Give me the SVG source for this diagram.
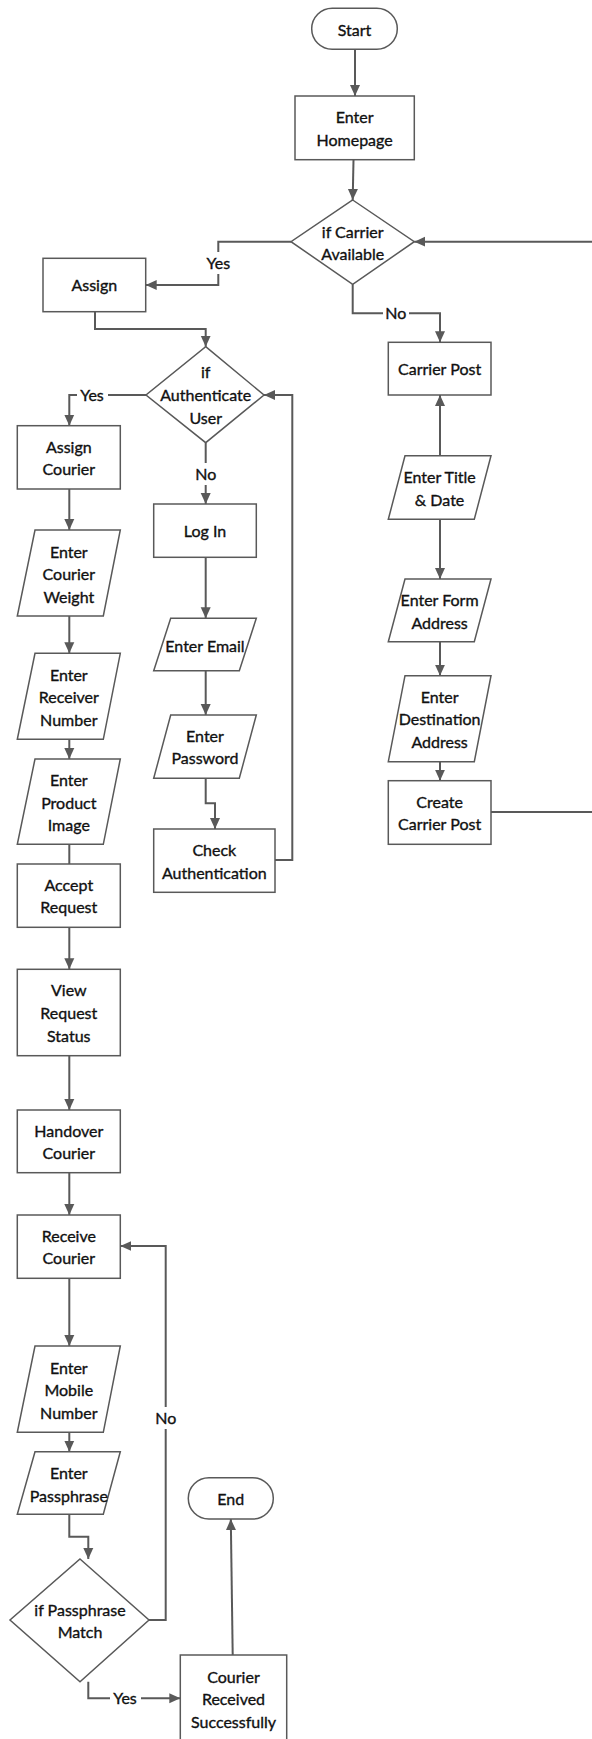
<svg xmlns="http://www.w3.org/2000/svg" width="592" height="1739" viewBox="0 0 592 1739">
<style>
.s{fill:#fff;stroke:#595959;stroke-width:1.5}
.c{fill:none;stroke:#595959;stroke-width:2}
.a{marker-end:url(#ah)}
text{font-family:Lato,"Noto Sans","Liberation Sans",sans-serif;font-size:16px;fill:#111;stroke:#111;stroke-width:0.35;text-anchor:middle}
.lb{fill:#fff;stroke:none}
</style>
<defs>
<marker id="ah" markerUnits="userSpaceOnUse" markerWidth="12" markerHeight="12" viewBox="0 0 12 12" refX="11" refY="6" orient="auto">
<path d="M0,1 L11,6 L0,11 Z" fill="#595959"/>
</marker>
</defs>
<rect width="592" height="1739" fill="#fff"/>
<g id="connectors">
<path class="c a" d="M355 49.3 V96"/>
<path class="c a" d="M353.5 159.7 L352.7 200"/>
<path class="c a" d="M291 241.7 H218.3 V285 H145.7"/>
<path class="c a" d="M352.7 284.3 V313.3 H440 V342.3"/>
<path class="c a" d="M95 311.7 V329 H205.7 V346.7"/>
<path class="c a" d="M146 395 H69.3 V425.7"/>
<path class="c a" d="M205.7 442.7 V504"/>
<path class="c a" d="M440 455.7 V395"/>
<path class="c a" d="M440 519.3 V579"/>
<path class="c a" d="M440 641.7 V675.7"/>
<path class="c a" d="M440 761.7 V780.7"/>
<path class="c a" d="M491 812 H600 V241.7 H414.3"/>
<path class="c a" d="M69.3 489 V530"/>
<path class="c a" d="M69.3 616 V653.3"/>
<path class="c a" d="M69.3 739.3 V759"/>
<path class="c" d="M69.3 844.3 V864"/>
<path class="c a" d="M205.7 557.3 V618.3"/>
<path class="c a" d="M205.7 670.7 V715"/>
<path class="c a" d="M205.7 778.3 V803.3 H215 V829"/>
<path class="c a" d="M275 860 H292.3 V395 H264"/>
<path class="c a" d="M69.3 927.3 V969.3"/>
<path class="c a" d="M69.3 1055.7 V1110"/>
<path class="c a" d="M69.3 1172.7 V1215"/>
<path class="c a" d="M69.3 1278.3 V1346"/>
<path class="c a" d="M69.3 1432.3 V1451.7"/>
<path class="c a" d="M69.3 1514.3 V1536.7 H88.3 V1559"/>
<path class="c a" d="M149 1620 H165.7 V1246 H120.3"/>
<path class="c a" d="M88.3 1681.7 V1698.3 H180.3"/>
<path class="c a" d="M232.7 1655 L230.8 1519"/>
<rect class="lb" x="203" y="252" width="31" height="22"/>
<text x="218.3" y="268.8">Yes</text>
<rect class="lb" x="383" y="302" width="26" height="22"/>
<text x="395.7" y="319">No</text>
<rect class="lb" x="77" y="384" width="31" height="22"/>
<text x="92" y="400.8">Yes</text>
<rect class="lb" x="193" y="463" width="26" height="22"/>
<text x="205.7" y="479.8">No</text>
<rect class="lb" x="153" y="1407" width="26" height="22"/>
<text x="165.7" y="1424">No</text>
<rect class="lb" x="110" y="1687" width="31" height="22"/>
<text x="125" y="1704">Yes</text>
</g>
<g id="start">
<rect class="s" x="311.7" y="8.3" width="85.6" height="41" rx="20.5"/>
<text x="354.5" y="35.5">Start</text>
</g>
<g id="homepage">
<rect class="s" x="295" y="96" width="119.3" height="63.7"/>
<text x="354.6" y="122.8">Enter</text>
<text x="354.6" y="145.8">Homepage</text>
</g>
<g id="carrier-available">
<polygon class="s" points="352.7,200 414.3,241.7 352.7,284.3 291,241.7"/>
<text x="352.7" y="237.5">if Carrier</text>
<text x="352.7" y="260.1">Available</text>
</g>
<g id="assign">
<rect class="s" x="43" y="258.3" width="102.7" height="53.4"/>
<text x="94.3" y="290.8">Assign</text>
</g>
<g id="carrier-post">
<rect class="s" x="388.3" y="342.3" width="102.7" height="52.7"/>
<text x="439.6" y="374.8">Carrier Post</text>
</g>
<g id="authenticate">
<polygon class="s" points="205.7,346.7 264,395 205.7,442.7 146,395"/>
<text x="205.7" y="377.5">if</text>
<text x="205.7" y="400.8">Authenticate</text>
<text x="205.7" y="423.8">User</text>
</g>
<g id="assign-courier">
<rect class="s" x="17.3" y="425.7" width="103" height="63.3"/>
<text x="68.8" y="452.5">Assign</text>
<text x="68.8" y="474.8">Courier</text>
</g>
<g id="courier-weight">
<polygon class="s" points="35,530 120.3,530 103.3,616 17.3,616"/>
<text x="68.8" y="557.5">Enter</text>
<text x="68.8" y="580.1">Courier</text>
<text x="68.8" y="602.8">Weight</text>
</g>
<g id="receiver-number">
<polygon class="s" points="35,653.3 120.3,653.3 103.3,739.3 17.3,739.3"/>
<text x="68.8" y="680.8">Enter</text>
<text x="68.8" y="702.8">Receiver</text>
<text x="68.8" y="725.8">Number</text>
</g>
<g id="product-image">
<polygon class="s" points="35,759 120.3,759 103.3,844.3 17.3,844.3"/>
<text x="68.8" y="785.8">Enter</text>
<text x="68.8" y="808.5">Product</text>
<text x="68.8" y="830.8">Image</text>
</g>
<g id="accept-request">
<rect class="s" x="17.3" y="864" width="103" height="63.3"/>
<text x="68.8" y="890.8">Accept</text>
<text x="68.8" y="913.1">Request</text>
</g>
<g id="view-request-status">
<rect class="s" x="17.3" y="969.3" width="103" height="86.4"/>
<text x="68.8" y="995.8">View</text>
<text x="68.8" y="1018.8">Request</text>
<text x="68.8" y="1041.8">Status</text>
</g>
<g id="handover-courier">
<rect class="s" x="17.3" y="1110" width="103" height="62.7"/>
<text x="68.8" y="1136.5">Handover</text>
<text x="68.8" y="1158.8">Courier</text>
</g>
<g id="receive-courier">
<rect class="s" x="17.3" y="1215" width="103" height="63.3"/>
<text x="68.8" y="1241.5">Receive</text>
<text x="68.8" y="1263.8">Courier</text>
</g>
<g id="mobile-number">
<polygon class="s" points="35,1346 120.3,1346 103.3,1432.3 17.3,1432.3"/>
<text x="68.8" y="1373.5">Enter</text>
<text x="68.8" y="1395.8">Mobile</text>
<text x="68.8" y="1418.8">Number</text>
</g>
<g id="passphrase">
<polygon class="s" points="35,1451.7 120.3,1451.7 103.3,1514.3 17.3,1514.3"/>
<text x="68.8" y="1478.5">Enter</text>
<text x="68.8" y="1501.5">Passphrase</text>
</g>
<g id="passphrase-match">
<polygon class="s" points="80,1559 149,1620 80,1681.7 10,1620"/>
<text x="80" y="1615.8">if Passphrase</text>
<text x="80" y="1637.8">Match</text>
</g>
<g id="courier-received">
<rect class="s" x="180.3" y="1655" width="106.4" height="95"/>
<text x="233.5" y="1682.5">Courier</text>
<text x="233.5" y="1705.1">Received</text>
<text x="233.5" y="1727.8">Successfully</text>
</g>
<g id="end">
<rect class="s" x="188.3" y="1477.7" width="85" height="41.3" rx="20.6"/>
<text x="230.8" y="1504.8">End</text>
</g>
<g id="log-in">
<rect class="s" x="153.7" y="504" width="102.6" height="53.3"/>
<text x="205" y="536.8">Log In</text>
</g>
<g id="enter-email">
<polygon class="s" points="170.7,618.3 256.3,618.3 239.3,670.7 153.7,670.7"/>
<text x="205" y="651.5">Enter Email</text>
</g>
<g id="enter-password">
<polygon class="s" points="170.7,715 256.3,715 239.3,778.3 153.7,778.3"/>
<text x="205" y="741.5">Enter</text>
<text x="205" y="763.8">Password</text>
</g>
<g id="check-authentication">
<rect class="s" x="153.7" y="829" width="121.3" height="63.3"/>
<text x="214.3" y="855.8">Check</text>
<text x="214.3" y="878.5">Authentication</text>
</g>
<g id="title-date">
<polygon class="s" points="405,455.7 491,455.7 474.3,519.3 388.3,519.3"/>
<text x="439.6" y="482.5">Enter Title</text>
<text x="439.6" y="505.5">&amp; Date</text>
</g>
<g id="form-address">
<polygon class="s" points="405,579 491,579 474.3,641.7 388.3,641.7"/>
<text x="439.6" y="605.5">Enter Form</text>
<text x="439.6" y="628.5">Address</text>
</g>
<g id="destination-address">
<polygon class="s" points="405,675.7 491,675.7 474.3,761.7 388.3,761.7"/>
<text x="439.6" y="702.5">Enter</text>
<text x="439.6" y="724.8">Destination</text>
<text x="439.6" y="747.5">Address</text>
</g>
<g id="create-carrier-post">
<rect class="s" x="388.3" y="780.7" width="102.7" height="63.6"/>
<text x="439.6" y="807.5">Create</text>
<text x="439.6" y="829.8">Carrier Post</text>
</g>
</svg>
